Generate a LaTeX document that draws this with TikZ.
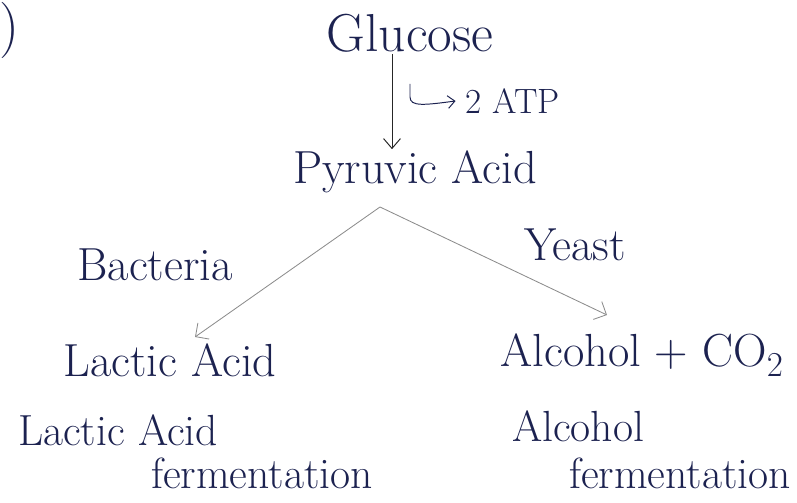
\documentclass[tikz,border=0pt]{standalone}
\usetikzlibrary{arrows.meta}
\definecolor{ink}{HTML}{1C2250}
\definecolor{pencil}{HTML}{8C8C8C}
\begin{document}
\begin{tikzpicture}[x=0.025cm, y=-0.025cm,
    word/.style={text=ink, font=\fontsize{33}{36}\selectfont, inner sep=1pt},
    note/.style={text=ink, font=\fontsize{31}{34}\selectfont, inner sep=1pt},
    small/.style={text=ink, font=\fontsize{25}{28}\selectfont, inner sep=1pt},
    flow/.style={draw=black!85, line width=0.7pt, -{Straight Barb[length=7pt, width=12pt]}},
    branch/.style={draw=pencil, line width=0.6pt, -{Straight Barb[length=7pt, width=14pt]}}]
  \useasboundingbox (0,0) rectangle (797,503);
  \node[word, font=\fontsize{40}{44}\selectfont] (mark) at (9,30) {)};
  \node[word, font=\fontsize{38}{42}\selectfont] (glucose) at (410,33) {Glucose};
  \node[word] (pyruvic) at (415,172) {Pyruvic Acid};
  \draw[flow] (glucose.south -| 392,0) -- (pyruvic.north -| 392,0);
  \coordinate (hook) at (410,84);
  \node[small, anchor=west] (atp) at (464,101) {2 ATP};
  \draw[ink, line width=0.7pt, -{Straight Barb[length=5pt, width=9pt]}]
    (hook) -- (410,97) .. controls (410,107) and (425,105) .. ([xshift=-6pt]atp.west);
  \coordinate (fork) at (380,207);
  \coordinate (lacticin) at (195,337);
  \coordinate (alcoholin) at (607,315);
  \draw[branch] (fork) -- (lacticin);
  \draw[branch] (fork) -- (alcoholin);
  \node[word] (bacteria) at (155,265) {Bacteria};
  \node[word] (yeast) at (575,245) {Yeast};
  \node[word] (lactic) at (170,360) {Lactic Acid};
  \node[word] (alcohol) at (642,355) {Alcohol + CO$_2$};
  \node[note] (lacticname) at (118,430) {Lactic Acid};
  \node[note] (lacticferm) at (262,473) {fermentation};
  \node[note] (alcoholname) at (578,426) {Alcohol};
  \node[note] (alcoholferm) at (680,473) {fermentation};
\end{tikzpicture}
\end{document}
